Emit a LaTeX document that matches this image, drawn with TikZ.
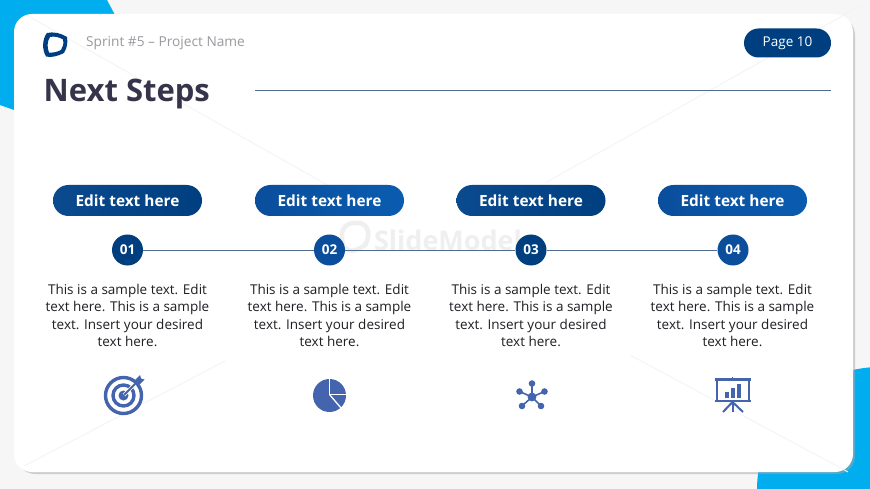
\documentclass[tikz,border=0pt]{standalone}
\usepackage{fontspec}
\setmainfont{Open Sans}
\definecolor{bgc}{HTML}{F6F6F6}
\definecolor{cyanc}{HTML}{00AEEF}
\definecolor{darkb}{HTML}{003F7F}
\definecolor{darkc}{HTML}{0A4A8E}
\definecolor{lightb}{HTML}{0A4E9C}
\definecolor{lightc}{HTML}{0A5CB0}
\definecolor{linec}{HTML}{4F6E8F}
\definecolor{iconc}{HTML}{4464AD}
\definecolor{titlec}{HTML}{35344A}
\definecolor{subc}{HTML}{9A9A9F}
\definecolor{bodyc}{HTML}{1F1F24}
\definecolor{faintc}{HTML}{F4F4F4}
\definecolor{markc}{HTML}{EFEFEF}
\tikzset{
  x=1pt,y=-1pt,
  pilldark/.style={rounded rectangle,minimum width=149pt,minimum height=31pt,inner sep=0pt,left color=darkc,right color=darkb,text=white,font=\fontsize{15.4}{17}\selectfont\bfseries},
  pilllight/.style={rounded rectangle,minimum width=149pt,minimum height=31pt,inner sep=0pt,left color=lightb,right color=lightc,text=white,font=\fontsize{15.4}{17}\selectfont\bfseries},
  numdark/.style={circle,minimum size=31pt,inner sep=0pt,fill=darkb,text=white,font=\fontsize{13.5}{15}\selectfont\bfseries},
  numlight/.style={circle,minimum size=31pt,inner sep=0pt,fill=lightb,text=white,font=\fontsize{13.5}{15}\selectfont\bfseries},
  bodytext/.style={align=center,text=bodyc,inner sep=0pt,font=\fontsize{13.5}{17.4}\selectfont},
  iconline/.style={draw=iconc,fill=none},
  faint/.style={draw=faintc,line width=0.9pt},
  link/.style={draw=linec,line width=1pt}
}
\usetikzlibrary{shapes.misc}
\begin{document}
\begin{tikzpicture}
\useasboundingbox (0,0) rectangle (870,489);
\fill[bgc] (0,0) rectangle (870,489);
% cyan corners
\fill[cyanc] (0,0) -- (107,0) -- (115,15) -- (14,60) -- (14,110) -- (0,105) -- cycle;
\begin{scope}
\clip (0,0) rectangle (870,489);
\fill[cyanc] (880,490) circle (123);
\end{scope}
% card
\fill[black!35,opacity=.5] (17,17) [rounded corners=18pt] rectangle (855,474);
\fill[white,rounded corners=18pt] (14,14) rectangle (853,472);
% faint diagonals
\draw[faint] (30,17) -- (345,195);
\draw[faint] (545,183) -- (860,6);
\draw[faint] (24,466) -- (225,361);
\draw[faint] (630,355) -- (848,472);
% watermark
\draw[markc,line width=4.5pt,rounded corners=9pt] (343,224) -- (366,222) -- (370,240) -- (360,250) -- (345,252) -- (341,240) -- cycle;
\node[text=markc,inner sep=0pt,font=\fontsize{27}{30}\selectfont\bfseries] (mark) at (448,240) {SlideModel};
% logo
\fill[darkb,even odd rule] (47,33) .. controls (53,31.5) and (61,33) .. (67,37) .. controls (68,43) and (67,48) .. (64,53) .. controls (58,56) and (51,58) .. (46,56.5) .. controls (42,50) and (42,39) .. (47,33) -- cycle
 (50,37) .. controls (54,36) and (59,37) .. (63,39.5) .. controls (64,44) and (63,47) .. (61,50) .. controls (57,52) and (53,53) .. (49,52.5) .. controls (47,48) and (47,41) .. (50,37) -- cycle;
% header
\node[anchor=west,text=subc,inner sep=0pt,font=\fontsize{13.7}{15}\selectfont] (sprint) at (86,43.5) {Sprint \#5 – Project Name};
\node[anchor=west,text=titlec,inner sep=0pt,font=\fontsize{31}{34}\selectfont\bfseries] (title) at (43.5,94.5) {Next Steps};
\coordinate (ruleA) at (255,90.5);
\coordinate (ruleB) at (831,90.5);
\draw[link] (ruleA) -- (ruleB);
\node[rounded rectangle,minimum width=87pt,minimum height=29pt,inner sep=0pt,fill=darkb,text=white,font=\fontsize{13.5}{15}\selectfont] (page) at (787.5,43) {Page 10};
% pills
\node[pilldark] (p1) at (127.5,200.5) {Edit text here};
\node[pilllight] (p2) at (329.5,200.5) {Edit text here};
\node[pilldark] (p3) at (531,200.5) {Edit text here};
\node[pilllight] (p4) at (732.5,200.5) {Edit text here};
% number circles
\node[numdark] (n1) at (127.5,250) {01};
\node[numlight] (n2) at (329.5,250) {02};
\node[numdark] (n3) at (531,250) {03};
\node[numlight] (n4) at (733,250) {04};
\draw[link] (n1) -- (n2);
\draw[link] (n2) -- (n3);
\draw[link] (n3) -- (n4);
% body
\node[bodytext] (t1) at (127.5,315.5) {This is a sample text. Edit\\text here. This is a sample\\text. Insert your desired\\text here.};
\node[bodytext] (t2) at (329.5,315.5) {This is a sample text. Edit\\text here. This is a sample\\text. Insert your desired\\text here.};
\node[bodytext] (t3) at (531,315.5) {This is a sample text. Edit\\text here. This is a sample\\text. Insert your desired\\text here.};
\node[bodytext] (t4) at (732.5,315.5) {This is a sample text. Edit\\text here. This is a sample\\text. Insert your desired\\text here.};
% target icon
\draw[iconline,line width=3.4pt] (123.5,395.5) circle (18);
\draw[iconline,line width=3.4pt] (123.5,395.5) circle (10.5);
\fill[iconc] (123.5,395.5) circle (5);
\draw[white,line width=3.5pt] (124,395) -- (135,384);
\draw[iconc,line width=1.8pt] (124,395) -- (138,381);
\fill[iconc] (135,380) -- (140,375) -- (141,378.5) -- (144.5,379.5) -- (139.5,384.5) -- (136,383.5) -- cycle;
% pie icon
\fill[iconc] (329.5,395.5) circle (16.5);
\draw[white,line width=1.3pt] (329.5,378) -- (329.5,394.5) -- (347,394.5);
\draw[white,line width=1.3pt] (329.5,394.5) -- (341,408);
% network icon
\fill[iconc] (532,397) circle (4.4);
\foreach \p in {(532,383.5),(519.5,391.5),(544.5,391.5),(522,406),(541,406)}{
  \fill[iconc] \p circle (3.3);
  \draw[iconc,line width=1.6pt] (532,397) -- \p;
}
% presentation icon
\draw[iconc,line width=2.3pt] (717,380) -- (717,401) (749,380) -- (749,401);
\draw[iconc,line width=2.3pt] (715,379.5) -- (751,379.5);
\draw[iconc,line width=2.3pt] (714.5,401) -- (751,401);
\draw[iconc,line width=1.3pt] (732.5,377) -- (732.5,379);
\draw[iconc,line width=2pt] (732.5,401) -- (732.5,412);
\draw[iconc,line width=2pt] (732.5,402) -- (723,412);
\draw[iconc,line width=2pt] (732.5,402) -- (743,412);
\fill[iconc] (725,392) rectangle (729,397.5);
\fill[iconc] (731,388) rectangle (735,397.5);
\fill[iconc] (737,383.5) rectangle (740.5,397.5);
\end{tikzpicture}
\end{document}
